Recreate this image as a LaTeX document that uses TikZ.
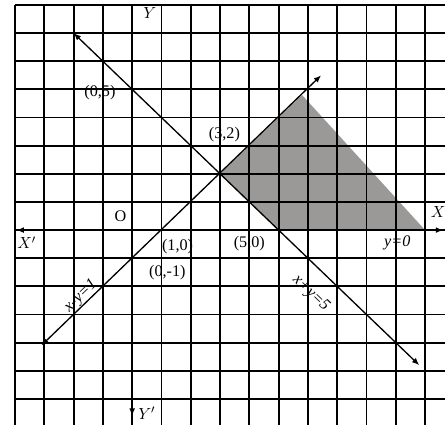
\documentclass[tikz,border=0pt]{standalone}
\usepackage{fontspec}
\setmainfont{Liberation Serif}
\usetikzlibrary{arrows.meta}
\tikzset{gridline/.style={black, line width=1.3pt},
  bline/.style={black, line width=0.9pt, {Latex[length=5pt,width=4pt]}-{Latex[length=5pt,width=4pt]}},
  lbl/.style={font=\fontsize{11}{12}\selectfont, inner sep=1pt}}

\begin{document}
\begin{tikzpicture}[x=0.7cm,y=0.6725cm]
\useasboundingbox[fill=white] (-4.513,-6.926) rectangle (10.68,8.177);

% feasible region
\fill[fill={rgb,255:red,155;green,153;blue,152}] (3,2) -- (5.8,4.8) -- (10,0) -- (5,0) -- cycle;

% grid
\begin{scope}
\clip (-4.2,-6.926) rectangle (10.68,8.2);
\draw[gridline, step=1] (-4,-6.95) grid (10.7,8);
\end{scope}

% axes
\coordinate (xl) at (-3.95,0);
\coordinate (xr) at (10.62,0);
\coordinate (yt) at (0,8);
\coordinate (yb) at (0,-6.6);
\draw[gridline, {Latex[length=5pt,width=4pt]}-{Latex[length=5pt,width=4pt]}] (xl) -- (xr);
\draw[gridline, -{Latex[length=5pt,width=4pt]}] (yt) -- (yb);

% lines
\coordinate (p1) at (-3.1,-4.1);
\coordinate (p2) at (6.45,5.5);
\coordinate (q1) at (-2,7);
\coordinate (q2) at (9.8,-4.8);
\draw[bline] (p1) -- (p2);
\draw[bline] (q1) -- (q2);

\node[lbl] (Xp) at (-3.6,-0.45) {$X'$};
\node[lbl] (X) at (10.45,0.65) {$X$};
\node[lbl] (Y) at (0.6,7.7) {$Y$};
\node[lbl] (Yp) at (0.5,-6.5) {$Y'$};
\node[lbl] (O) at (-0.4,0.48) {O};
\node[lbl] (p10) at (1.55,-0.58) {(1,0)};
\node[lbl] (p01) at (1.2,-1.5) {(0,-1)};
\node[lbl] (p32) at (3.15,3.38) {(3,2)};
\node[lbl] (p05) at (-1.1,4.9) {(0,5)};
\node[lbl] (p50) at (4.0,-0.47) {(5,0)};
\node[lbl] (y0) at (9.05,-0.47) {\itshape y=0};
\node[lbl, rotate=44] (l1) at (-1.75,-2.35) {\itshape x-y=1};
\node[lbl, rotate=-44] (l2) at (6.1,-2.25) {\itshape x+y=5};
\end{tikzpicture}
\end{document}
